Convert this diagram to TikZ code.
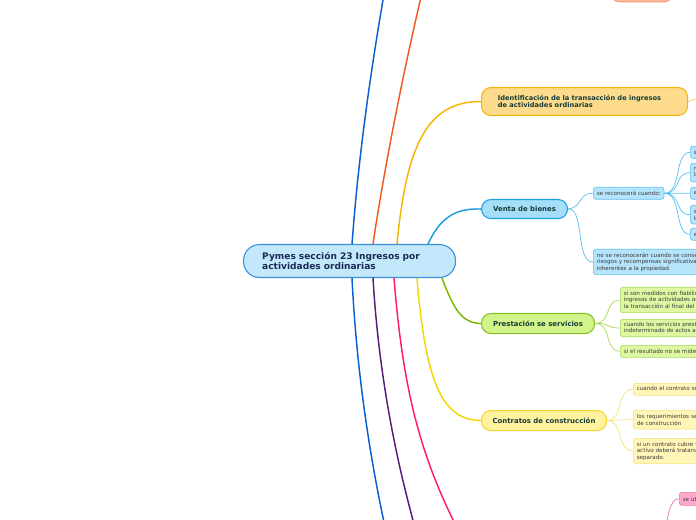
\documentclass[tikz,border=0pt]{standalone}
\usepackage{fontspec}
\setmainfont{DejaVu Sans}
\usetikzlibrary{calc}
\definecolor{cenfill}{HTML}{C4E8FB}
\definecolor{cendraw}{HTML}{3A90D8}
\definecolor{centext}{HTML}{1A2A55}
\definecolor{maintext}{HTML}{163C38}
\definecolor{subtext}{HTML}{3A3A3A}
\definecolor{idfill}{HTML}{FDDB8C}
\definecolor{iddraw}{HTML}{F4B40F}
\definecolor{vbfill}{HTML}{A6DEF9}
\definecolor{vbdraw}{HTML}{1E9FE0}
\definecolor{bsfill}{HTML}{B5E4FB}
\definecolor{bsdraw}{HTML}{5EC0EE}
\definecolor{psfill}{HTML}{D2F48A}
\definecolor{psdraw}{HTML}{84C225}
\definecolor{gsfill}{HTML}{DDF7A2}
\definecolor{gsdraw}{HTML}{A8D85A}
\definecolor{ccfill}{HTML}{FFF3A0}
\definecolor{ccdraw}{HTML}{F0D830}
\definecolor{ysfill}{HTML}{FFF6B8}
\definecolor{ysdraw}{HTML}{F5E47A}
\definecolor{sfill}{HTML}{FFB99C}
\definecolor{sdraw}{HTML}{F79A78}
\definecolor{pkfill}{HTML}{FFA8CD}
\definecolor{pkdraw}{HTML}{F076AA}
\definecolor{lblue}{HTML}{0A5FD0}
\definecolor{lorange}{HTML}{F05A1E}
\definecolor{lgold}{HTML}{F7B500}
\definecolor{lsky}{HTML}{1A9EE0}
\definecolor{lgreen}{HTML}{7AB800}
\definecolor{lyellow}{HTML}{F0D800}
\definecolor{lpurple}{HTML}{5A1A7A}
\definecolor{lpink}{HTML}{FF1A70}
\tikzset{
  mainbox/.style={draw, line width=0.8pt, rounded corners=7pt, anchor=north west, inner sep=0pt,
     font=\fontsize{5.2}{6.2}\selectfont\bfseries, text=maintext},
  subbox/.style={draw, line width=0.5pt, rounded corners=2pt, anchor=north west, inner xsep=2.6pt, inner ysep=0pt,
     align=left, font=\fontsize{4.2}{4.9}\selectfont, text=subtext},
  branch/.style={line width=1.1pt},
  twig/.style={line width=0.55pt}
}
\begin{document}
\begin{tikzpicture}[x=0.75pt,y=-0.75pt]
\useasboundingbox (0,0) rectangle (696,520);
\clip (0,0) rectangle (696,520);
% central node
\node[draw=cendraw, fill=cenfill, line width=0.8pt, rounded corners=12pt, anchor=north west,
      minimum width=159pt, minimum height=24.75pt, text width=131pt, inner xsep=14pt, inner ysep=0pt,
      align=left, font=\fontsize{6.8}{7.6}\selectfont\bfseries, text=centext] (c) at (243,244)
  {Pymes sección 23 Ingresos por\\actividades ordinarias};
% main nodes
\node[mainbox, draw=iddraw, fill=idfill, minimum width=154.5pt, minimum height=21pt, text width=130pt,
      inner xsep=12pt, align=left, font=\fontsize{5.0}{5.6}\selectfont\bfseries] (id) at (481,87)
  {Identificación de la transacción de ingresos\\de actividades ordinarias};
\node[mainbox, draw=vbdraw, fill=vbfill, minimum width=64.5pt, minimum height=14.25pt] (vb) at (481,199) {Venta de bienes};
\node[mainbox, draw=psdraw, fill=psfill, minimum width=84.75pt, minimum height=15pt] (ps) at (481,313) {Prestación se servicios};
\node[mainbox, draw=ccdraw, fill=ccfill, minimum width=93.75pt, minimum height=15pt] (cc) at (481,410) {Contratos de construcción};
% off-edge nodes
\node[mainbox, draw=sdraw, fill=sfill, minimum width=47pt, minimum height=16pt] (tp) at (610,-20) {};
\node[subbox, draw=pkdraw, fill=pkfill, minimum width=40pt, minimum height=9.75pt, text width=60pt] (pk) at (679,492) {se utilizará};
% blue subnodes
\node[subbox, draw=bsdraw, fill=bsfill, minimum height=9pt] (sr) at (593,187) {se reconocerá cuando:};
\node[subbox, draw=bsdraw, fill=bsfill, minimum height=19pt, text width=150pt] (nr) at (593,249)
  {no se reconocerán cuando se conserven los\\riesgos y recompensas significativas\\inherentes a la propiedad.};
\node[subbox, draw=bsdraw, fill=bsfill, minimum height=9pt, text width=60pt] (b1) at (690,146) {se transfieren};
\node[subbox, draw=bsdraw, fill=bsfill, minimum height=14pt, text width=60pt] (b2) at (690,163) {no conserva\\la gestión};
\node[subbox, draw=bsdraw, fill=bsfill, minimum height=9pt, text width=60pt] (b3) at (690,187) {el importe};
\node[subbox, draw=bsdraw, fill=bsfill, minimum height=14pt, text width=60pt] (b4) at (690,205) {sea probable\\los beneficios};
\node[subbox, draw=bsdraw, fill=bsfill, minimum height=9pt, text width=60pt] (b5) at (690,228) {el costo};
% green subnodes
\node[subbox, draw=gsdraw, fill=gsfill, minimum height=19pt, text width=150pt] (g1) at (620,287)
  {si son medidos con fiabilidad se reconocerán los\\ingresos de actividades ordinarias asociados con\\la transacción al final del periodo};
\node[subbox, draw=gsdraw, fill=gsfill, minimum height=13pt, text width=150pt] (g2) at (620,319)
  {cuando los servicios prestados sean un número\\indeterminado de actos a lo largo del tiempo};
\node[subbox, draw=gsdraw, fill=gsfill, minimum height=9pt, text width=150pt] (g3) at (620,345)
  {si el resultado no se mide con fiabilidad};
% yellow subnodes
\node[subbox, draw=ysdraw, fill=ysfill, minimum height=9pt, text width=150pt] (y1) at (633,383)
  {cuando el contrato se ejecute};
\node[subbox, draw=ysdraw, fill=ysfill, minimum height=14pt, text width=150pt] (y2) at (633,410)
  {los requerimientos se aplicarán a cada contrato\\de construcción};
\node[subbox, draw=ysdraw, fill=ysfill, minimum height=19pt, text width=150pt] (y3) at (633,438)
  {si un contrato cubre varios activos, cada\\activo deberá tratarse como un contrato\\separado.};
% free ends
\coordinate (tb) at (390,-40);
\coordinate (to) at (430,-40);
\coordinate (bb) at (389,545);
\coordinate (bp) at (420,545);
\coordinate (bk) at (466,545);
\coordinate (ir) at (712,95);
\coordinate (pkin) at (662,545);
% main branches
\draw[branch, lblue] ($(c.north west)+(109,0)$) .. controls (359,150) and (372,60) .. (tb);
\draw[branch, lorange] ($(c.north west)+(130,0)$) .. controls (384,170) and (405,60) .. (to);
\draw[branch, lgold] ($(c.north west)+(154,0)$) .. controls (406,150) and (425,101) .. (id.west);
\draw[branch, lsky] ($(c.north west)+(185,0)$) .. controls (440,218) and (455,208) .. (vb.west);
\draw[branch, lgreen] ($(c.south west)+(199,0)$) .. controls (454,310) and (462,323) .. (ps.west);
\draw[branch, lyellow] ($(c.south west)+(174,0)$) .. controls (426,390) and (445,420) .. (cc.west);
\draw[branch, lblue] ($(c.south west)+(109,0)$) .. controls (357,380) and (372,470) .. (bb);
\draw[branch, lpurple] ($(c.south west)+(130,0)$) .. controls (379,380) and (398,470) .. (bp);
\draw[branch, lpink] ($(c.south west)+(151,0)$) .. controls (403,390) and (420,460) .. (bk);
% twigs
\draw[twig, iddraw!70] (id.east) .. controls (692,101) and (700,96) .. (ir);
\draw[twig, bsdraw] (vb.east) .. controls (582,208) and (578,193) .. (sr.west);
\draw[twig, bsdraw] (vb.east) .. controls (585,208) and (575,262) .. (nr.west);
\foreach \n in {b1,b2,b3,b4,b5}{
  \draw[twig, bsdraw] (sr.east) .. controls (682,193) and (674,193 |- \n.west) .. (\n.west);
}
\draw[line width=1.2pt, bsdraw] (sr.east) -- ++(7,0);
\foreach \n in {g1,g2,g3}{
  \draw[twig, gsdraw] (ps.east) .. controls (612,323) and (604,323 |- \n.west) .. (\n.west);
}
\foreach \n in {y1,y2,y3}{
  \draw[twig, ysdraw] (cc.east) .. controls (624,420) and (616,420 |- \n.west) .. (\n.west);
}
\draw[twig, pkdraw] (pk.west) .. controls (670,498) and (668,515) .. (pkin);
\end{tikzpicture}
\end{document}
